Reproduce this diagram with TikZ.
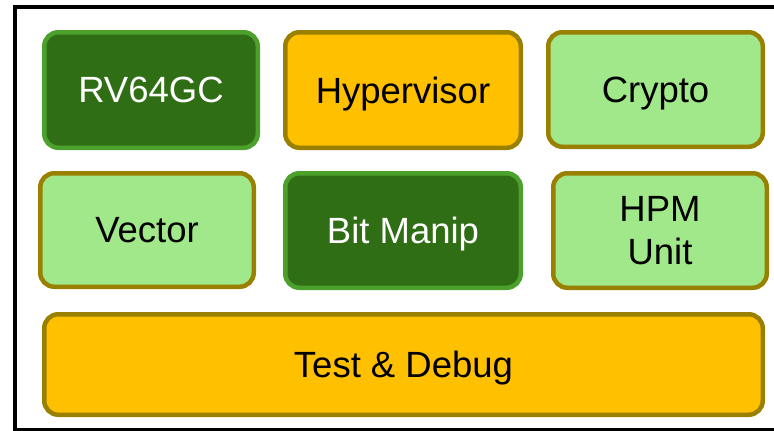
\documentclass[tikz,border=0pt]{standalone}
\usepackage{fontspec}
\setmainfont{Liberation Sans}
\definecolor{darkfill}{RGB}{47,110,21}
\definecolor{darkline}{RGB}{76,161,45}
\definecolor{lightfill}{RGB}{160,232,137}
\definecolor{olive}{RGB}{153,128,0}
\definecolor{amber}{RGB}{255,192,0}
\begin{document}
\begin{tikzpicture}[x=1pt,y=-1pt,
  block/.style={rounded corners=14pt,line width=4.5pt,align=center,
    inner sep=0pt,text depth=0pt,font=\fontsize{36.5}{43}\selectfont},
  core/.style={block,fill=darkfill,draw=darkline,text=white},
  ext/.style={block,fill=lightfill,draw=olive,text=black},
  priv/.style={block,fill=amber,draw=olive,text=black}]
\useasboundingbox (0,0) rectangle (774,431);
\begin{scope}
\clip (0,0) rectangle (774,431);
\draw[line width=4pt] (15,7) rectangle (800,430);
\end{scope}
\node[core,minimum width=213.5pt,minimum height=115.5pt] (rv) at (151,90) {RV64GC};
\node[priv,minimum width=235.5pt,minimum height=115.5pt] (hyp) at (403,90) {Hypervisor};
\node[ext,minimum width=214.5pt,minimum height=114.5pt] (crypto) at (655.5,89.5) {Crypto};
\node[ext,minimum width=213.5pt,minimum height=113.5pt] (vec) at (147,230) {Vector};
\node[core,minimum width=235.5pt,minimum height=114.5pt] (bit) at (403,230.5) {Bit Manip};
\node[ext,minimum width=213.5pt,minimum height=114.5pt] (hpm) at (660,230.5) {HPM\\Unit};
\node[priv,minimum width=718.5pt,minimum height=100.5pt] (dbg) at (403.5,364.5) {Test \& Debug};
\end{tikzpicture}
\end{document}
